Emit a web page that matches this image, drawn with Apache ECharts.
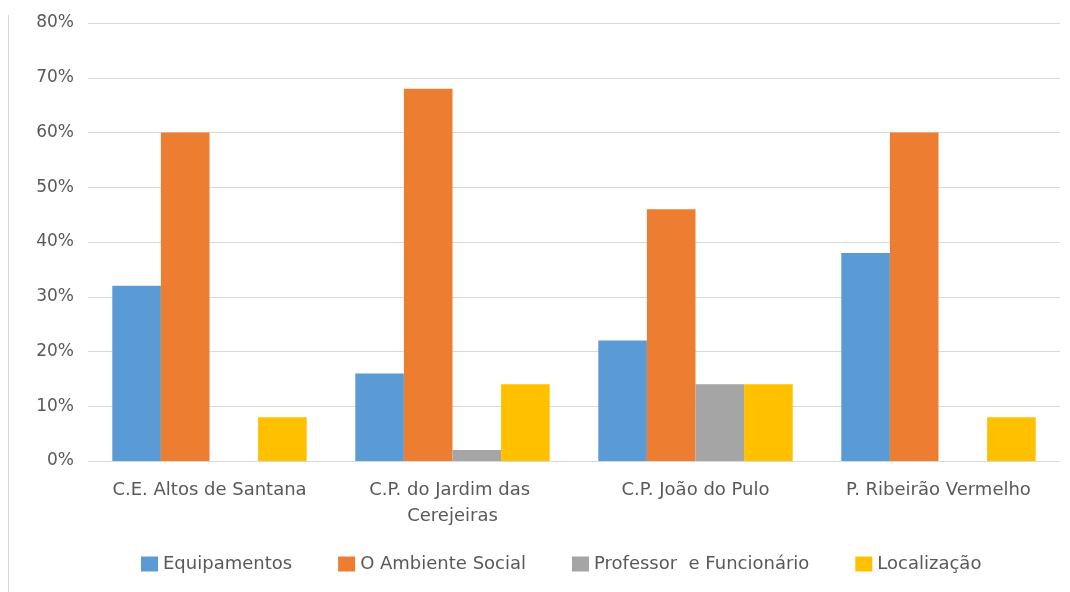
<!DOCTYPE html>
<html>
<head>
<meta charset="utf-8">
<script src="https://cdn.jsdelivr.net/npm/echarts@6/dist/echarts.min.js"></script>
<style>
  html, body { margin: 0; padding: 0; background: #fff; }
  #chart { width: 1070px; height: 592px; }
  .edge { position: absolute; left: 8px; top: 15px; bottom: 0; border-left: 1px solid #d9d9d9; }
</style>
</head>
<body>
<div class="edge"></div>
<div id="chart"></div>
<script>
const escolas = ['C.E. Altos de Santana', 'C.P. do Jardim das Cerejeiras', 'C.P. João do Pulo', 'P. Ribeirão Vermelho']
const equipamentos = [32, 16, 22, 38]
const ambienteSocial = [60, 68, 46, 60]
const professor = [0, 2, 14, 0]
const localizacao = [8, 14, 14, 8]
const nomes = ['Equipamentos', 'O Ambiente Social', 'Professor  e Funcionário', 'Localização']
const cores = ['#5B9BD5', '#ED7D31', '#A5A5A5', '#FFC000']

const fonte = '"DejaVu Sans", sans-serif'
const valores = [equipamentos, ambienteSocial, professor, localizacao]

const option = {
  animation: false,
  textStyle: { fontFamily: fonte },
  legend: {
    top: 550,
    left: 136,
    itemWidth: 17,
    itemHeight: 15,
    itemGap: 46,
    icon: 'rect',
    textStyle: { color: '#595959', fontSize: 18, fontFamily: fonte },
    data: nomes
  },
  grid: { left: 88, right: 10, top: 23, bottom: 131 },
  xAxis: {
    type: 'category',
    data: escolas,
    axisTick: { show: false },
    axisLine: { lineStyle: { color: '#d9d9d9' } },
    axisLabel: {
      color: '#595959',
      fontSize: 18,
      fontFamily: fonte,
      margin: 16,
      lineHeight: 26,
      width: 225,
      overflow: 'break',
      interval: 0
    }
  },
  yAxis: {
    type: 'value',
    min: 0,
    max: 80,
    interval: 10,
    axisLine: { show: false },
    axisTick: { show: false },
    splitLine: { lineStyle: { color: '#d9d9d9' } },
    axisLabel: {
      color: '#595959',
      fontSize: 17,
      fontFamily: fonte,
      margin: 14,
      formatter: v => v + '%'
    }
  },
  series: nomes.map((n, i) => ({
    name: n,
    type: 'bar',
    data: valores[i],
    barGap: '0%',
    barCategoryGap: '20%',
    itemStyle: { color: cores[i] }
  }))
}

const chart = echarts.init(document.getElementById('chart'))
chart.setOption(option)
</script>
</body>
</html>
